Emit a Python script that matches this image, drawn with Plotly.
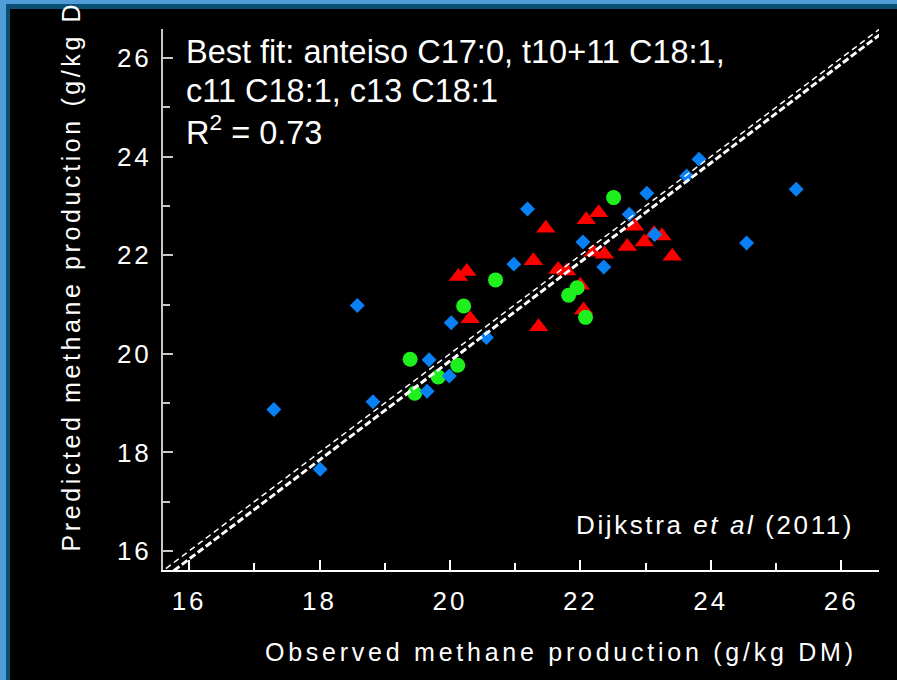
import plotly.graph_objects as go

# ---------------- data (g/kg DM) ----------------
# blue diamonds
diamond_obs = [17.30, 18.01, 18.58, 18.82, 19.68, 19.65, 19.99, 20.02, 20.56, 20.98,
               21.19, 22.04, 22.36, 22.75, 23.02, 23.14, 23.63, 23.82, 24.55, 25.31]
diamond_pred = [18.87, 17.66, 20.98, 19.03, 19.88, 19.24, 19.55, 20.63, 20.33, 21.82,
                22.94, 22.27, 21.76, 22.83, 23.26, 22.42, 23.61, 23.95, 22.25, 23.34]
# red triangles
triangle_obs = [20.13, 20.26, 20.31, 21.28, 21.47, 21.66, 21.79, 22.00, 22.05, 21.36,
                22.09, 22.28, 22.20, 22.37, 22.72, 22.98, 22.83, 23.13, 23.25, 23.41]
triangle_pred = [21.57, 21.67, 20.71, 21.89, 22.55, 21.71, 21.68, 21.39, 20.89, 20.55,
                 22.72, 22.86, 22.06, 22.02, 22.18, 22.27, 22.59, 22.44, 22.39, 21.98]
# green circles
circle_obs = [19.39, 19.46, 19.82, 20.12, 20.21, 20.70, 21.82, 21.95, 22.08, 22.51]
circle_pred = [19.89, 19.20, 19.53, 19.77, 20.97, 21.50, 21.19, 21.34, 20.74, 23.17]

# reference lines
line_x = [15.4, 26.8]
one_to_one_y = list(line_x)
fit_slope = 1.0044
fit_intercept = -0.234
fit_y = [fit_intercept + fit_slope * v for v in line_x]

x_ticks = [16, 18, 20, 22, 24, 26]
y_ticks = [16, 18, 20, 22, 24, 26]

x_title = "Observed methane production (g/kg DM)"
y_title = "Predicted methane production (g/kg DM)"
fit_text = ["Best fit: anteiso C17:0, t10+11 C18:1,",
            "c11 C18:1, c13 C18:1",
            "R<sup>2</sup> = 0.73"]
source_text = "Dijkstra <i>et al</i> (2011)"

# ---------------- figure ----------------
FONT = "Liberation Sans, Arial, sans-serif"
LIGHT_BLUE = "#4f9dd9"
DARK_BLUE = "#0a5073"

fig = go.Figure()
fig.add_trace(go.Scatter(x=triangle_obs, y=triangle_pred, mode="markers",
                         marker=dict(symbol="triangle-up", size=17, color="#ff0000",
                                     line=dict(width=0)), cliponaxis=False))
fig.add_trace(go.Scatter(x=circle_obs, y=circle_pred, mode="markers",
                         marker=dict(symbol="circle", size=15, color="#1ef01e",
                                     line=dict(width=0)), cliponaxis=False))
fig.add_trace(go.Scatter(x=diamond_obs, y=diamond_pred, mode="markers",
                         marker=dict(symbol="diamond", size=11.5, color="#0a80f5",
                                     line=dict(width=0)), cliponaxis=False))
fig.add_trace(go.Scatter(x=line_x, y=one_to_one_y, mode="lines",
                         line=dict(color="white", width=1.5, dash="6px,4px")))
fig.add_trace(go.Scatter(x=line_x, y=fit_y, mode="lines",
                         line=dict(color="white", width=3, dash="7px,3px")))


def spaced(t, ls):
    return f"<span style='letter-spacing:{ls}px'>{t}</span>"


axis_common = dict(
    showgrid=False, zeroline=False, showline=True, linewidth=2,
    ticks="inside", ticklen=10, tickwidth=1.5, dtick=2, tick0=16,
    tickfont=dict(family=FONT, size=26, color="white"),
)
fig.update_xaxes(**axis_common, range=[15.6, 26.58], linecolor="white", tickcolor="white",
                 tickvals=x_ticks, ticktext=[spaced(v, 3) for v in x_ticks],
                 ticklabelstandoff=7,
                 minor=dict(dtick=1, tick0=16, ticks="inside", ticklen=7,
                            tickcolor="white", tickwidth=1.5))
fig.update_yaxes(**axis_common, range=[15.615, 26.59], linecolor="#c8c8c8", tickcolor="#c8c8c8",
                 tickvals=y_ticks, ticktext=[spaced(v, 3) for v in y_ticks],
                 ticklabelstandoff=4,
                 minor=dict(dtick=1, tick0=16, ticks="inside", ticklen=7,
                            tickcolor="#c8c8c8", tickwidth=1.5))

# frame (paper is black): light blue outer band + dark blue rim on left and top
W, H = 897.0, 680.0
L, T, PW, PH = 163.0, 29.0, 716.0, 541.0


def px_to_paper_x(px):
    return (px - L) / PW


def px_to_paper_y(py):
    return (T + PH - py) / PH


frame = [
    (0, 10, 0, H + 10, DARK_BLUE),      # left dark rim
    (0, W + 10, 0, 9, DARK_BLUE),       # top dark rim
    (0, 6, 0, H + 10, LIGHT_BLUE),      # left light band
    (0, W + 10, 0, 4, LIGHT_BLUE),      # top light band
]
for x0, x1, y0, y1, col in frame:
    fig.add_shape(type="rect", xref="paper", yref="paper",
                  x0=px_to_paper_x(x0), x1=px_to_paper_x(x1),
                  y0=px_to_paper_y(y1), y1=px_to_paper_y(y0),
                  fillcolor=col, line=dict(width=0), layer="below")

ann = []
for txt, yp in zip(fit_text, [0.9575, 0.8854, 0.8133]):
    ann.append(dict(text=txt, xref="paper", yref="paper", x=0.030, y=yp,
                    xanchor="left", yanchor="middle", showarrow=False,
                    font=dict(family=FONT, size=32.5, color="white")))
ann.append(dict(text=spaced(source_text, 2.6), xref="paper", yref="paper", x=0.9685, y=0.0832,
                xanchor="right", yanchor="middle", showarrow=False,
                font=dict(family=FONT, size=26, color="white")))
ann.append(dict(text=spaced(x_title, 3.75), xref="paper", yref="paper", x=0.5555, y=-0.1516,
                xanchor="center", yanchor="middle", showarrow=False,
                font=dict(family=FONT, size=25, color="white")))
ann.append(dict(text=spaced(y_title, 3.6), xref="paper", yref="paper", x=-0.1285, y=0.0314,
                xanchor="center", yanchor="bottom", textangle=-90, showarrow=False,
                font=dict(family=FONT, size=25, color="white")))

fig.update_layout(width=897, height=680, margin=dict(l=163, r=18, t=29, b=110),
                  paper_bgcolor="black", plot_bgcolor="black", showlegend=False,
                  annotations=ann)

fig.write_html("out.html", config={"displayModeBar": False},
               post_script="document.body.style.margin='0';document.body.style.overflow='hidden';")
